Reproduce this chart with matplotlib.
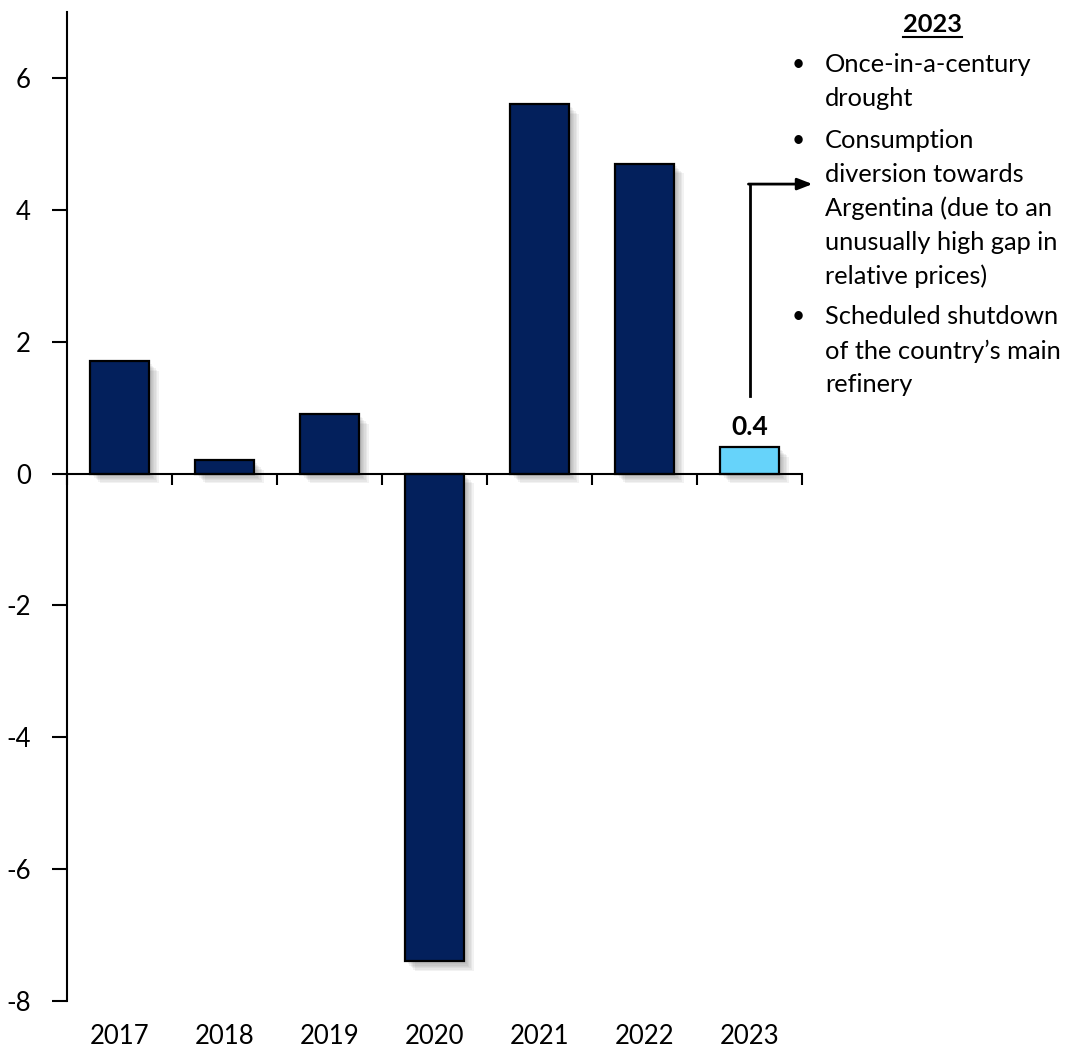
import matplotlib
matplotlib.use("Agg")
import matplotlib.pyplot as plt
import matplotlib.patheffects as pe
from matplotlib.lines import Line2D
import matplotlib.transforms as mtransforms

plt.rcParams['font.family'] = ['Lato', 'DejaVu Sans']

years = ["2017", "2018", "2019", "2020", "2021", "2022", "2023"]
values = [1.7, 0.2, 0.9, -7.4, 5.6, 4.7, 0.4]
bar_colors = ["#03205C"] * 6 + ["#66D3FA"]
yticks = [-8, -6, -4, -2, 0, 2, 4, 6]
title_2023 = "2023"
bullets = [
    ["Once-in-a-century", "drought"],
    ["Consumption", "diversion towards", "Argentina (due to an", "unusually high gap in", "relative prices)"],
    ["Scheduled shutdown", "of the country\u2019s main", "refinery"],
]

W, H = 1072, 1049
fig = plt.figure(figsize=(W / 100, H / 100), dpi=100)
ax = fig.add_axes([67 / W, 1 - 1001 / H, (802 - 67) / W, (1001 - 12) / H])

x = list(range(len(years)))
shadow = [pe.SimplePatchShadow(offset=(o, -o), shadow_rgbFace="#707070", alpha=0.09) for o in (7, 6, 5, 4, 3, 2)]
shadow.append(pe.Normal())
bars = ax.bar(x, values, width=0.56, color=bar_colors, edgecolor="black", linewidth=1.6, zorder=3)
for b in bars:
    b.set_path_effects(shadow)

ax.set_xlim(-0.5, len(years) - 0.5)
ax.set_ylim(-8, 7)

for s in ["top", "right"]:
    ax.spines[s].set_visible(False)
ax.spines["bottom"].set_position(("data", 0))
ax.spines["left"].set_linewidth(1.5)
ax.spines["bottom"].set_linewidth(1.5)
ax.spines["bottom"].set_zorder(4)

ax.set_yticks(yticks)
ax.set_yticklabels([str(v) for v in yticks], fontsize=18.5)
ax.tick_params(axis="y", direction="out", length=11, width=1.5, pad=15)

ax.set_xticks([i - 0.5 for i in range(len(years) + 1)])
ax.set_xticklabels([])
ax.tick_params(axis="x", direction="out", length=8, width=1.5)

trans = mtransforms.blended_transform_factory(ax.transData, ax.transAxes)
for i, yr in enumerate(years):
    ax.text(i, -0.036, yr, transform=trans, ha="center", va="center", fontsize=18.5)

# value label for 2023
ax.text(6, values[6] + 0.31, f"{values[6]}", ha="center", va="center", fontsize=19, fontweight="bold")

# arrow
ax.plot([6, 6], [1.17, 4.39], color="black", lw=2, clip_on=False, zorder=5)
ax.annotate("", xy=(6.60, 4.39), xytext=(5.99, 4.39),
            arrowprops=dict(arrowstyle="-|>,head_length=0.9,head_width=0.35", color="black", lw=2,
                            shrinkA=0, shrinkB=0),
            annotation_clip=False)

# side text
fs = 18.3
fig.text(933 / W, 1 - 25 / H, title_2023, ha="center", va="center", fontsize=fs, fontweight="bold")
fig.add_artist(Line2D([903 / W, 962 / W], [1 - 37 / H, 1 - 37 / H], color="black", lw=1.5))
y = 65
for group in bullets:
    fig.text(792 / W, 1 - y / H, "\u2022", ha="left", va="center", fontsize=fs - 2)
    for line in group:
        fig.text(825 / W, 1 - y / H, line, ha="left", va="center", fontsize=fs)
        y += 34
    y += 7

fig.savefig("out.png", dpi=100)
